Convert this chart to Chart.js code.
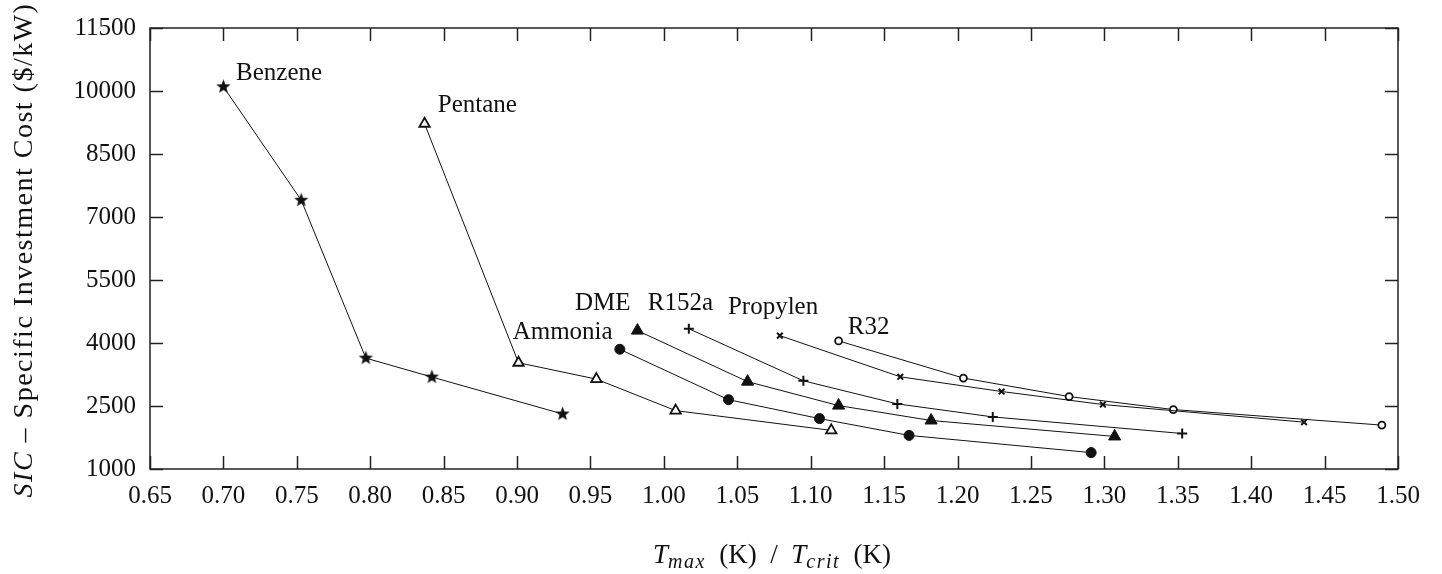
<!DOCTYPE html>
<html>
<head>
<meta charset="utf-8">
<script src="https://cdn.jsdelivr.net/npm/chart.js@4/dist/chart.umd.min.js"></script>
<style>
  html, body { margin: 0; padding: 0; background: #fff; }
  #wrap { width: 1442px; height: 574px; position: relative; }
</style>
</head>
<body>
<div id="wrap"><canvas id="sic-chart"></canvas></div>
<script>
// Tmax / Tcrit ratios and specific investment cost ($/kW) per working fluid.
const benzeneX = [0.700, 0.753, 0.797, 0.842, 0.931];
const benzeneY = [10100, 7400, 3640, 3190, 2310];
const pentaneX = [0.837, 0.901, 0.954, 1.008, 1.114];
const pentaneY = [9220, 3530, 3140, 2390, 1920];
const ammoniaX = [0.970, 1.044, 1.106, 1.167, 1.291];
const ammoniaY = [3850, 2650, 2200, 1800, 1390];
const dmeX = [0.982, 1.057, 1.119, 1.182, 1.307];
const dmeY = [4295, 3080, 2510, 2155, 1775];
const r152aX = [1.017, 1.095, 1.159, 1.224, 1.353];
const r152aY = [4340, 3100, 2550, 2240, 1845];
const propylenX = [1.079, 1.161, 1.230, 1.299, 1.436];
const propylenY = [4175, 3195, 2845, 2535, 2115];
const r32X = [1.119, 1.204, 1.276, 1.347, 1.489];
const r32Y = [4050, 3165, 2725, 2415, 2045];

const fluidNames = ['Benzene', 'Pentane', 'Ammonia', 'DME', 'R152a', 'Propylen', 'R32'];

const FONT = '"Liberation Serif", "DejaVu Serif", serif';
const INK = '#111';

// Filled five-point star, since Chart.js 'star' is only an asterisk.
function makeStar(r) {
  const c = document.createElement('canvas');
  const s = Math.ceil(r * 2 + 2);
  c.width = s; c.height = s;
  const g = c.getContext('2d');
  g.fillStyle = INK;
  g.beginPath();
  for (let i = 0; i < 10; i++) {
    const rad = i % 2 === 0 ? r : r * 0.42;
    const a = -Math.PI / 2 + i * Math.PI / 5;
    const px = s / 2 + rad * Math.cos(a);
    const py = s / 2 + rad * Math.sin(a);
    if (i === 0) g.moveTo(px, py); else g.lineTo(px, py);
  }
  g.closePath();
  g.fill();
  return c;
}

function zip(xs, ys) {
  return xs.map((x, i) => ({ x, y: ys[i] }));
}

function series(label, xs, ys, marker) {
  return Object.assign({
    label,
    data: zip(xs, ys),
    showLine: true,
    borderColor: INK,
    borderWidth: 1,
    pointBorderColor: INK,
    pointHoverRadius: 6,
    tension: 0,
  }, marker);
}

// Anchors for the fluid names (left edge, vertical middle) in data units.
const labelAnchors = {
  Benzene: [0.7086, 10420],
  Pentane: [0.846, 9660],
  DME: [0.9394, 4950],
  Ammonia: [0.897, 4245],
  R152a: [0.989, 4950],
  Propylen: [1.0436, 4835],
  R32: [1.1253, 4360],
};

const TICK_LEN = 13;

// Draw a run of [text, font, dy, spacing] pieces starting at x.
function drawRuns(ctx, runs, x0, y0, measureOnly) {
  let x = x0;
  runs.forEach(([txt, font, dy, sp]) => {
    ctx.font = font + FONT;
    ctx.letterSpacing = (sp || 0) + 'px';
    if (!measureOnly) ctx.fillText(txt, x, y0 + dy);
    x += ctx.measureText(txt).width;
  });
  ctx.letterSpacing = '0px';
  return x - x0;
}

const framePlugin = {
  id: 'frame',
  afterDatasetsDraw(chart) {
    const { ctx, chartArea: a, scales: { x, y } } = chart;
    ctx.save();
    ctx.strokeStyle = '#222';
    ctx.lineWidth = 1.5;
    ctx.strokeRect(a.left, a.top, a.right - a.left, a.bottom - a.top);

    // inward ticks on all four sides
    ctx.beginPath();
    x.ticks.forEach((t) => {
      const px = Math.round(x.getPixelForValue(t.value)) + 0.5;
      ctx.moveTo(px, a.bottom); ctx.lineTo(px, a.bottom - TICK_LEN);
      ctx.moveTo(px, a.top); ctx.lineTo(px, a.top + TICK_LEN);
    });
    y.ticks.forEach((t) => {
      const py = Math.round(y.getPixelForValue(t.value)) + 0.5;
      ctx.moveTo(a.left, py); ctx.lineTo(a.left + TICK_LEN, py);
      ctx.moveTo(a.right, py); ctx.lineTo(a.right - TICK_LEN, py);
    });
    ctx.stroke();

    // fluid labels
    ctx.fillStyle = INK;
    ctx.font = '25px ' + FONT;
    ctx.textAlign = 'left';
    ctx.textBaseline = 'middle';
    fluidNames.forEach((n) => {
      const [lx, ly] = labelAnchors[n];
      ctx.fillText(n, x.getPixelForValue(lx), y.getPixelForValue(ly));
    });

    // x-axis title with subscripts
    ctx.textBaseline = 'alphabetic';
    const xRuns = [
      ['T', 'italic 27px ', 0, 0],
      ['max', 'italic 20px ', 5, 1.5],
      ['  (K)  /  ', '27px ', 0, 0],
      ['T', 'italic 27px ', 0, 0],
      ['crit', 'italic 20px ', 5, 1.5],
      ['  (K)', '27px ', 0, 0],
    ];
    const xw = drawRuns(ctx, xRuns, 0, 0, true);
    drawRuns(ctx, xRuns, 772 - xw / 2, 563, false);

    // y-axis title, rotated
    ctx.save();
    ctx.translate(32, 250);
    ctx.rotate(-Math.PI / 2);
    const yRuns = [
      ['SIC', 'italic 28px ', 0, 1.5],
      [' \u2013 Specific Investment Cost ($/kW)', '28px ', 0, 1.5],
    ];
    const yw = drawRuns(ctx, yRuns, 0, 0, true);
    drawRuns(ctx, yRuns, -yw / 2, 0, false);
    ctx.restore();
    ctx.restore();
  },
};

const starImg = makeStar(7.5);

new Chart(document.getElementById('sic-chart'), {
  type: 'scatter',
  data: {
    datasets: [
      series('Benzene', benzeneX, benzeneY, { pointStyle: starImg, pointRadius: 7 }),
      series('Pentane', pentaneX, pentaneY, { pointStyle: 'triangle', pointRadius: 6, pointBackgroundColor: '#fff', pointBorderWidth: 1.8 }),
      series('Ammonia', ammoniaX, ammoniaY, { pointStyle: 'circle', pointRadius: 5, pointBackgroundColor: INK, pointBorderWidth: 1 }),
      series('DME', dmeX, dmeY, { pointStyle: 'triangle', pointRadius: 7, pointBackgroundColor: INK, pointBorderWidth: 1 }),
      series('R152a', r152aX, r152aY, { pointStyle: 'cross', pointRadius: 5, pointBorderWidth: 2 }),
      series('Propylen', propylenX, propylenY, { pointStyle: 'crossRot', pointRadius: 4, pointBorderWidth: 2 }),
      series('R32', r32X, r32Y, { pointStyle: 'circle', pointRadius: 3.5, pointBackgroundColor: '#fff', pointBorderWidth: 1.8 }),
    ],
  },
  options: {
    responsive: true,
    maintainAspectRatio: false,
    animation: false,
    layout: { padding: { top: 28, right: 44, left: 0, bottom: 0 } },
    plugins: {
      legend: { display: false },
      tooltip: { enabled: false },
    },
    scales: {
      x: {
        type: 'linear',
        min: 0.65,
        max: 1.5,
        ticks: {
          stepSize: 0.05,
          color: INK,
          font: { family: FONT, size: 25 },
          padding: 4,
          callback: (v) => v.toFixed(2),
          maxRotation: 0,
          autoSkip: false,
        },
        grid: { display: false },
        border: { display: false },
        afterFit(scale) { scale.height = 574 - 469; },
      },
      y: {
        type: 'linear',
        min: 1000,
        max: 11500,
        ticks: {
          stepSize: 1500,
          color: INK,
          font: { family: FONT, size: 25 },
          padding: 6,
          autoSkip: false,
          callback: (v) => String(v),
        },
        grid: { display: false },
        border: { display: false },
        afterFit(scale) { scale.width = 150; },
      },
    },
  },
  plugins: [framePlugin],
});
</script>
</body>
</html>
